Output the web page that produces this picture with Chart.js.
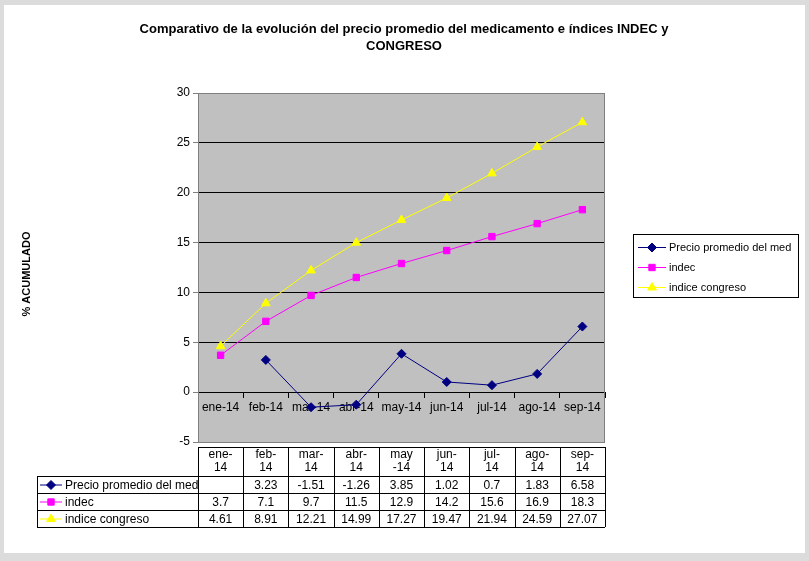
<!DOCTYPE html>
<html>
<head>
<meta charset="utf-8">
<script src="https://cdn.jsdelivr.net/npm/chart.js@4"></script>
<style>
  html, body { margin: 0; padding: 0; background: #dcdcdc; }
  #wrap { width: 809px; height: 561px; }
</style>
</head>
<body>
<div id="wrap"><canvas id="chart" width="809" height="561"></canvas></div>
<script>
const months = ['ene-14', 'feb-14', 'mar-14', 'abr-14', 'may-14', 'jun-14', 'jul-14', 'ago-14', 'sep-14'];
const tableHeads = [['ene-', '14'], ['feb-', '14'], ['mar-', '14'], ['abr-', '14'], ['may', '-14'],
                    ['jun-', '14'], ['jul-', '14'], ['ago-', '14'], ['sep-', '14']];
const precio = [null, 3.23, -1.51, -1.26, 3.85, 1.02, 0.7, 1.83, 6.58];
const indec = [3.7, 7.1, 9.7, 11.5, 12.9, 14.2, 15.6, 16.9, 18.3];
const congreso = [4.61, 8.91, 12.21, 14.99, 17.27, 19.47, 21.94, 24.59, 27.07];
const seriesNames = ['Precio promedio del med', 'indec', 'indice congreso'];
const titleLines = ['Comparativo de la evolución del precio promedio del medicamento e índices INDEC y', 'CONGRESO'];
const yTitle = '% ACUMULADO';

const FONT = '"Liberation Sans", Arial, sans-serif';

function fmt(v) {
  return v === null ? '' : String(v);
}

// draws a legend key (line + marker) centred on x,y
function drawKey(ctx, ds, x, y, half) {
  ctx.save();
  ctx.strokeStyle = ds.borderColor;
  ctx.lineWidth = 1;
  ctx.beginPath();
  ctx.moveTo(x - half, y + 0.5);
  ctx.lineTo(x + half, y + 0.5);
  ctx.stroke();
  ctx.fillStyle = ds.pointBackgroundColor;
  ctx.strokeStyle = ds.pointBorderColor;
  Chart.helpers.drawPoint(ctx, { pointStyle: ds.pointStyle, radius: ds.pointRadius, borderWidth: 1 }, x, y + 0.5);
  ctx.restore();
}

const decorPlugin = {
  id: 'decor',
  beforeDraw(chart) {
    const ctx = chart.ctx;
    const a = chart.chartArea;
    ctx.save();
    ctx.fillStyle = '#dcdcdc';
    ctx.fillRect(0, 0, chart.width, chart.height);
    ctx.fillStyle = '#ffffff';
    ctx.fillRect(4, 5, 801, 548);
    ctx.fillStyle = '#c0c0c0';
    ctx.fillRect(a.left, a.top, a.right - a.left, a.bottom - a.top);
    ctx.restore();
  },
  afterDraw(chart) {
    const ctx = chart.ctx;
    const a = chart.chartArea;
    const xs = chart.scales.x;
    const sets = chart.data.datasets;
    ctx.save();

    // plot border
    ctx.strokeStyle = '#808080';
    ctx.lineWidth = 1;
    ctx.strokeRect(a.left + 0.5, a.top + 0.5, a.right - a.left - 1, a.bottom - a.top);

    // title
    ctx.fillStyle = '#000';
    ctx.textAlign = 'center';
    ctx.textBaseline = 'middle';
    ctx.font = 'bold 13px ' + FONT;
    ctx.fillText(titleLines[0], 404, 29);
    ctx.fillText(titleLines[1], 404, 46);

    // y title
    ctx.save();
    ctx.translate(27, 274);
    ctx.rotate(-Math.PI / 2);
    ctx.font = 'bold 11px ' + FONT;
    ctx.fillText(yTitle, 0, 0);
    ctx.restore();

    // data table
    const colW = (a.right - a.left) / months.length;
    const headTop = 447, headBot = 476, rowH = 17;
    const tableLeft = 37;
    ctx.strokeStyle = '#000';
    ctx.beginPath();
    ctx.moveTo(a.left, headTop + 0.5); ctx.lineTo(a.right, headTop + 0.5);
    for (let r = 0; r <= 3; r++) {
      const y = headBot + r * rowH + 0.5;
      ctx.moveTo(tableLeft, y); ctx.lineTo(a.right, y);
    }
    for (let c = 0; c <= months.length; c++) {
      const x = Math.round(a.left + c * colW) + 0.5;
      ctx.moveTo(x, headTop); ctx.lineTo(x, headBot + 3 * rowH);
    }
    ctx.moveTo(tableLeft + 0.5, headBot); ctx.lineTo(tableLeft + 0.5, headBot + 3 * rowH);
    ctx.stroke();

    ctx.font = '12px ' + FONT;
    ctx.fillStyle = '#000';
    ctx.textAlign = 'center';
    tableHeads.forEach((h, i) => {
      const cx = xs.getPixelForValue(i);
      ctx.fillText(h[0], cx, headTop + 8);
      ctx.fillText(h[1], cx, headTop + 21);
    });
    sets.forEach((ds, r) => {
      const cy = headBot + r * rowH + rowH / 2 + 1;
      drawKey(ctx, ds, 51, cy - 1, 11);
      ctx.textAlign = 'left';
      ctx.fillStyle = '#000';
      ctx.fillText(seriesNames[r], 65, cy);
      ctx.textAlign = 'center';
      ds.data.forEach((v, i) => {
        ctx.fillText(fmt(v), xs.getPixelForValue(i), cy);
      });
    });

    // legend box
    ctx.fillStyle = '#fff';
    ctx.fillRect(633, 234, 165, 63);
    ctx.strokeStyle = '#000';
    ctx.strokeRect(633.5, 234.5, 165, 63);
    ctx.font = '11px ' + FONT;
    sets.forEach((ds, r) => {
      const cy = 247 + r * 20;
      drawKey(ctx, ds, 652, cy, 14);
      ctx.fillStyle = '#000';
      ctx.textAlign = 'left';
      ctx.fillText(seriesNames[r], 669, cy + 1);
    });
    ctx.restore();
  }
};

function series(data, color, style, radius) {
  return {
    data: data,
    borderColor: color,
    backgroundColor: color,
    pointBackgroundColor: color,
    pointBorderColor: color,
    pointStyle: style,
    pointRadius: radius,
    pointBorderWidth: 1,
    borderWidth: 1,
    tension: 0,
    spanGaps: false
  };
}

new Chart(document.getElementById('chart'), {
  type: 'line',
  data: {
    labels: months,
    datasets: [
      series(precio, '#000080', 'rectRot', 4.5),
      series(indec, '#ff00ff', 'rect', 4.5),
      series(congreso, '#ffff00', 'triangle', 5)
    ]
  },
  options: {
    responsive: false,
    animation: false,
    devicePixelRatio: 1,
    layout: { padding: { left: 158, right: 204, top: 93, bottom: 119 } },
    plugins: { legend: { display: false }, title: { display: false }, tooltip: { enabled: false } },
    scales: {
      x: {
        position: { y: 0 },
        offset: true,
        grid: { drawOnChartArea: false, offset: true, tickLength: 5, color: '#000' },
        border: { color: '#000' },
        ticks: { color: '#000', padding: 3, maxRotation: 0, autoSkip: false, font: { family: FONT, size: 12 } }
      },
      y: {
        min: -5,
        max: 30,
        afterFit(scale) { scale.width = 40; },
        ticks: { stepSize: 5, color: '#000', padding: 3, font: { family: FONT, size: 12 } },
        grid: {
          tickLength: 5,
          tickColor: '#808080',
          color: (c) => (c.tick && (c.tick.value === -5 || c.tick.value === 30)) ? '#808080' : '#000'
        },
        border: { color: '#808080' }
      }
    }
  },
  plugins: [decorPlugin]
});
</script>
</body>
</html>
